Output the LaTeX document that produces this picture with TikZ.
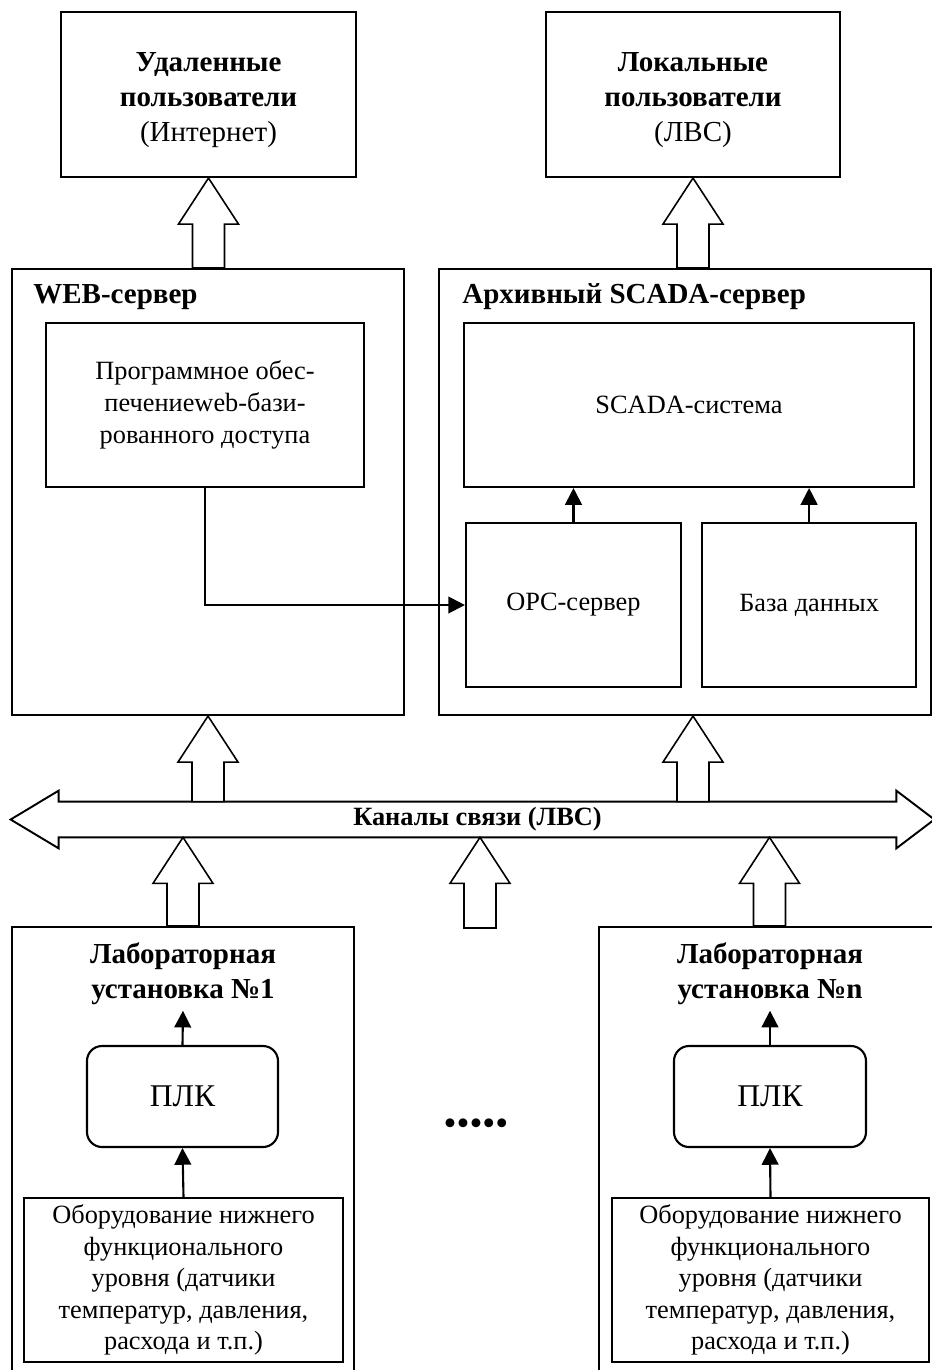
\documentclass[tikz,border=0pt]{standalone}
\usepackage{fontspec}
\setmainfont{Liberation Serif}
\usetikzlibrary{positioning,calc,arrows.meta}

\newcommand{\unitpx}{0.02cm}
% hollow block arrow: #1 = foot, #2 = tip
\newcommand{\hollowarrow}[2]{%
  \draw[hollow] (#2) -- ($(#2)+(30,46)$) -- ($(#2)+(16,46)$) -- ($(#1)+(16,0)$)
    -- ($(#1)+(-16,0)$) -- ($(#2)+(-16,46)$) -- ($(#2)+(-30,46)$) -- cycle;}

\begin{document}
\begin{tikzpicture}[x=0.02cm, y=-0.02cm,
  box/.style={draw, line width=1.2pt, inner sep=0pt, align=center, font=\fontsize{15}{18}\selectfont},
  userbox/.style={box, font=\fontsize{16.5}{20}\selectfont},
  title/.style={inner sep=0pt, align=center, font=\fontsize{16.5}{20}\selectfont\bfseries},
  hollow/.style={draw, fill=white, line width=0.9pt, line join=miter},
  link/.style={line width=1.2pt, -{Triangle[length=9.5pt,width=9.5pt]}}]

\useasboundingbox (0,0) rectangle (932,1370);

% Users (top row)
\node[userbox, minimum width=295*\unitpx, minimum height=165*\unitpx] (remote) at (208.5,94.5)
  {\rule{0pt}{17pt}\textbf{Удаленные}\\\textbf{пользователи}\\(Интернет)};
\node[userbox, minimum width=294*\unitpx, minimum height=165*\unitpx] (local) at (693,94.5)
  {\rule{0pt}{17pt}\textbf{Локальные}\\\textbf{пользователи}\\(ЛВС)};

% WEB server with its software
\node[box, minimum width=392*\unitpx, minimum height=446*\unitpx] (web) at (208,492) {};
\node[title, anchor=west] (webtitle) at (33,297) {WEB-сервер};
\node[box, minimum width=318*\unitpx, minimum height=164*\unitpx] (soft) at (205,405)
  {Программное обес-\\печениеweb-бази-\\рованного доступа};

% Archive SCADA server
\node[box, minimum width=492*\unitpx, minimum height=446*\unitpx] (archive) at (685,492) {};
\node[title, anchor=west] (archtitle) at (462,297) {Архивный SCADA-сервер};
\node[box, minimum width=450*\unitpx, minimum height=164*\unitpx] (scada) at (689,405) {SCADA-система};
\node[box, minimum width=215*\unitpx, minimum height=164*\unitpx] (opc) at (573.5,605) {OPC-сервер};
\node[box, minimum width=214*\unitpx, minimum height=164*\unitpx, right=19*\unitpx of opc] (db) {База данных};

\draw[link] (opc.north) -- (opc.north |- scada.south);
\draw[link] (db.north) -- (db.north |- scada.south);
\draw[link] (soft.south) |- (opc.west);

% Bus
\node[minimum width=837*\unitpx, minimum height=35*\unitpx, inner sep=0pt,
  font=\fontsize{15}{18}\selectfont\bfseries] (bus) at (477.5,819.5) {Каналы связи (ЛВС)};
\draw[line width=1.1pt, line join=miter] (bus.north west) -- (bus.north east) -- ++(0,-11)
  -- ($(bus.east)+(38,0)$) -- ($(bus.south east)+(0,11)$) -- (bus.south east)
  -- (bus.south west) -- ++(0,11) -- ($(bus.west)+(-48,0)$)
  -- ($(bus.north west)+(0,-11)$) -- cycle;

% Laboratory stands
\node[box, minimum width=342*\unitpx, minimum height=448*\unitpx] (lab1) at (183,1151) {};
\node[title] (lab1title) at (183,974) {Лабораторная\\установка №1};
\node[box, rounded corners=0.3cm, minimum width=191*\unitpx, minimum height=101*\unitpx,
  font=\fontsize{18}{20}\selectfont] (plc1) at (182.5,1096.5) {ПЛК};
\node[box, minimum width=319*\unitpx, minimum height=164*\unitpx] (equip1) at (183.5,1280)
  {Оборудование нижнего\\функционального\\уровня (датчики\\температур, давления,\\расхода и т.п.)};

\node[box, minimum width=341*\unitpx, minimum height=448*\unitpx] (labn) at (769.5,1151) {};
\node[title] (labntitle) at (770,974) {Лабораторная\\установка №n};
\node[box, rounded corners=0.3cm, minimum width=192*\unitpx, minimum height=101*\unitpx,
  font=\fontsize{18}{20}\selectfont] (plcn) at (770,1096.5) {ПЛК};
\node[box, minimum width=317*\unitpx, minimum height=164*\unitpx] (equipn) at (770.5,1280)
  {Оборудование нижнего\\функционального\\уровня (датчики\\температур, давления,\\расхода и т.п.)};

\node[font=\fontsize{21}{21}\selectfont, inner sep=0pt] (dots) at (476,1127) {•••••};

\draw[link] (equip1.north) -- (plc1.south);
\draw[link] (plc1.north) -- ([yshift=-3pt]lab1title.south);
\draw[link] (equipn.north) -- (plcn.south);
\draw[link] (plcn.north) -- ([yshift=-3pt]labntitle.south);

% Hollow arrows
\coordinate (f1) at (remote.south |- web.north);
\coordinate (f2) at (local.south |- archive.north);
\coordinate (t3) at (web.south);
\coordinate (f3) at (web.south |- bus.north);
\coordinate (t4) at (local.south |- archive.south);
\coordinate (f4) at (local.south |- bus.north);
\coordinate (t5) at (lab1.north |- bus.south);
\coordinate (t6) at (labn.north |- bus.south);
\coordinate (midfoot) at (480,928);
\coordinate (midtip) at (midfoot |- bus.south);

\hollowarrow{f1}{remote.south}
\hollowarrow{f2}{local.south}
\hollowarrow{f3}{t3}
\hollowarrow{f4}{t4}
\hollowarrow{lab1.north}{t5}
\hollowarrow{labn.north}{t6}
\hollowarrow{midfoot}{midtip}

\end{tikzpicture}
\end{document}
